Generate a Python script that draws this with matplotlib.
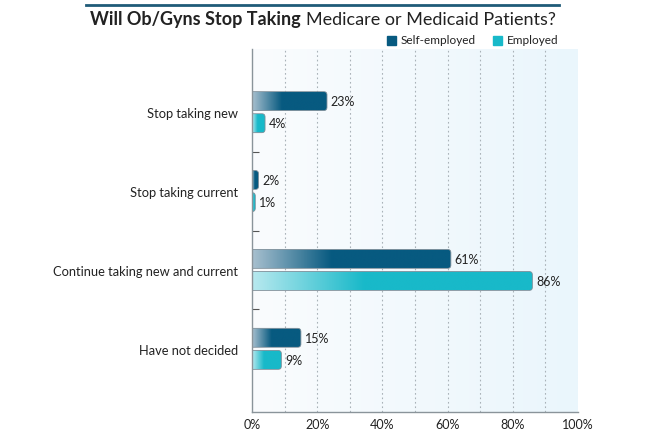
import numpy as np
import matplotlib
matplotlib.use("Agg")
import matplotlib.pyplot as plt
from matplotlib.colors import LinearSegmentedColormap
from matplotlib.patches import Rectangle, FancyBboxPatch
from matplotlib.lines import Line2D

plt.rcParams['font.family'] = ['Lato', 'DejaVu Sans']

categories = ["Stop taking new", "Stop taking current", "Continue taking new and current", "Have not decided"]
self_employed = [23, 2, 61, 15]
employed = [4, 1, 86, 9]
series_names = ["Self-employed", "Employed"]
xticks = [0, 20, 40, 60, 80, 100]
xticklabels = ["0%", "20%", "40%", "60%", "80%", "100%"]

W, H = 645, 439
fig = plt.figure(figsize=(W/100, H/100), dpi=100)
ax = fig.add_axes([252/W, 1-413/H, 326/W, 363/H])

# background gradient
bg = LinearSegmentedColormap.from_list("bg", ["#fafcfe", "#eaf6fc"])
ax.imshow(np.linspace(0, 1, 256).reshape(1, -1), cmap=bg, aspect='auto',
          extent=[0, 100, 3.8, -0.8], zorder=0)
ax.set_xlim(0, 100)
ax.set_ylim(3.8, -0.8)

for gx in range(10, 100, 10):
    ax.axvline(gx, color="#a9b2b8", lw=0.8, ls=(0, (1.5, 2.5)), zorder=1)

dark = "#075a80"
teal = "#18b9c9"
cm_dark = LinearSegmentedColormap.from_list("d", ["#a8c0cf", dark])
cm_teal = LinearSegmentedColormap.from_list("t", ["#b8e9ef", teal])

y = np.arange(len(categories))
h = 0.24
off = 0.14
xpx = 326/100.0
ypx = 363/4.6
aspect = (1/ypx)/(1/xpx)

def grad_bars(vals, ypos, color, cmap):
    bars = ax.barh(ypos, vals, height=h, color='none', edgecolor='none', zorder=3)
    g = np.clip(np.linspace(0, 1, 256) / 0.4, 0, 1).reshape(1, -1)
    for b, v in zip(bars, vals):
        x0, y0 = b.get_x(), b.get_y()
        bw, bh = b.get_width(), b.get_height()
        rnd = FancyBboxPatch((x0 - 3, y0), bw + 3, bh,
                             boxstyle="round,pad=0,rounding_size=1.0",
                             mutation_aspect=aspect, facecolor=color,
                             edgecolor="#7d8e99", lw=0.6, zorder=4,
                             transform=ax.transData)
        ax.add_patch(rnd)
        rnd.set_facecolor('none')
        im = ax.imshow(g, cmap=cmap, aspect='auto', extent=[x0, x0 + bw, y0 + bh, y0],
                       zorder=3.5, interpolation='bilinear')
        im.set_clip_path(rnd)
        ax.text(v + 1.2, y0 + bh/2, f"{v}%", va='center', ha='left', fontsize=9, color="#222222", zorder=5)
    return bars

grad_bars(self_employed, y - off, dark, cm_dark)
grad_bars(employed, y + off, teal, cm_teal)
ax.set_ylim(3.8, -0.8)
ax.set_xlim(0, 100)

ax.set_yticks(y)
ax.set_yticklabels(categories, fontsize=9.3, color="#222222")
ax.tick_params(axis='y', length=0, pad=10)
ax.set_yticks([0.5, 1.5, 2.5], minor=True)
ax.tick_params(axis='y', which='minor', direction='in', length=5, color="#555555", width=0.8)

ax.set_xticks(xticks)
ax.set_xticklabels(xticklabels, fontsize=9, color="#222222")
ax.tick_params(axis='x', length=0, pad=4)

for s in ['top', 'right']:
    ax.spines[s].set_visible(False)
for s in ['left', 'bottom']:
    ax.spines[s].set_color("#8a949a")
    ax.spines[s].set_linewidth(1.0)
    ax.spines[s].set_zorder(6)

# title line
fig.add_artist(Line2D([86/W, 559/W], [1-6/H, 1-6/H], color="#1f5b78", lw=2))

# title
t1 = fig.text(90/W, 1-20/H, "Will Ob/Gyns Stop Taking", fontsize=13, fontweight='bold',
              color="#222222", va='center', ha='left')
r = fig.canvas.get_renderer()
bb = t1.get_window_extent(r)
fig.text((bb.x1 + 5)/W, 1-20/H, "Medicare or Medicaid Patients?", fontsize=13,
         color="#222222", va='center', ha='left')

# legend
for xs, name, c in [(387, series_names[0], dark), (493, series_names[1], teal)]:
    fig.add_artist(Rectangle((xs/W, 1-46/H), 9/W, 9/H, color=c, transform=fig.transFigure))
    fig.text((xs + 14)/W, 1-41/H, name, fontsize=8.5, color="#222222", va='center', ha='left')

fig.savefig("out.png", dpi=100)
